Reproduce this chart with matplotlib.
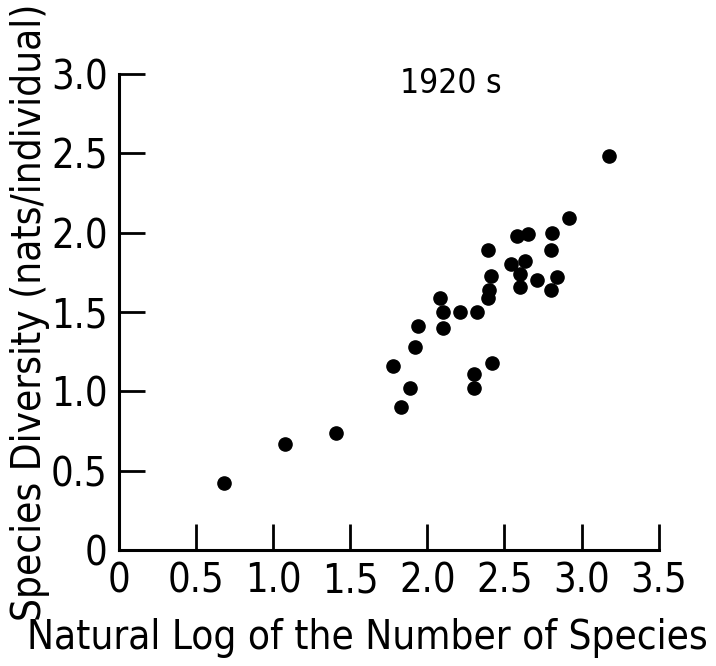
import matplotlib.pyplot as plt

# ln(number of species) vs species diversity, 1920s
log_species = [0.68, 1.08, 1.41,
               1.83, 1.89, 1.78, 1.92, 1.94, 2.08, 2.10, 2.10,
               2.21, 2.30, 2.30, 2.32, 2.39, 2.39, 2.40, 2.41, 2.42,
               2.54, 2.58, 2.60, 2.60, 2.63, 2.65, 2.71,
               2.80, 2.80, 2.81, 2.84, 2.92, 3.18]
diversity = [0.42, 0.67, 0.74,
             0.90, 1.02, 1.16, 1.28, 1.41, 1.59, 1.50, 1.40,
             1.50, 1.11, 1.02, 1.50, 1.89, 1.59, 1.64, 1.73, 1.18,
             1.80, 1.98, 1.74, 1.66, 1.82, 1.99, 1.70,
             1.89, 1.64, 2.00, 1.72, 2.09, 2.48]

x_ticks = [0, 0.5, 1.0, 1.5, 2.0, 2.5, 3.0, 3.5]
x_tick_labels = ['0', '0.5', '1.0', '1.5', '2.0', '2.5', '3.0', '3.5']
y_ticks = [0, 0.5, 1.0, 1.5, 2.0, 2.5, 3.0]
y_tick_labels = ['0', '0.5', '1.0', '1.5', '2.0', '2.5', '3.0']

plt.rcParams['font.family'] = ['DejaVu Sans']
plt.rcParams['font.stretch'] = 'condensed'

fig = plt.figure(figsize=(7.16, 6.66), dpi=100)
ax = fig.add_axes([0.166, 0.174, 0.754, 0.715])

ax.plot(log_species, diversity, 'o', color='black', markersize=9.5, clip_on=False)

ax.set_xlim(0, 3.5)
ax.set_ylim(0, 3.0)
ax.set_xticks(x_ticks)
ax.set_xticklabels(x_tick_labels)
ax.set_yticks(y_ticks)
ax.set_yticklabels(y_tick_labels)

for side in ['top', 'right']:
    ax.spines[side].set_visible(False)
for side in ['left', 'bottom']:
    ax.spines[side].set_linewidth(2.2)

ax.tick_params(direction='in', length=19, width=2, labelsize=28.5, pad=8, color='black')

ax.set_xlabel('Natural Log of the Number of Species', fontsize=29)
ax.xaxis.set_label_coords(0.461, -0.143)
ax.set_ylabel('Species Diversity (nats/individual)', fontsize=29, va='center')
ax.yaxis.set_label_coords(-0.165, 0.5)

ax.text(2.15, 2.94, '1920 s', fontsize=24, ha='center', va='center')

fig.savefig('out.png', dpi=100)
